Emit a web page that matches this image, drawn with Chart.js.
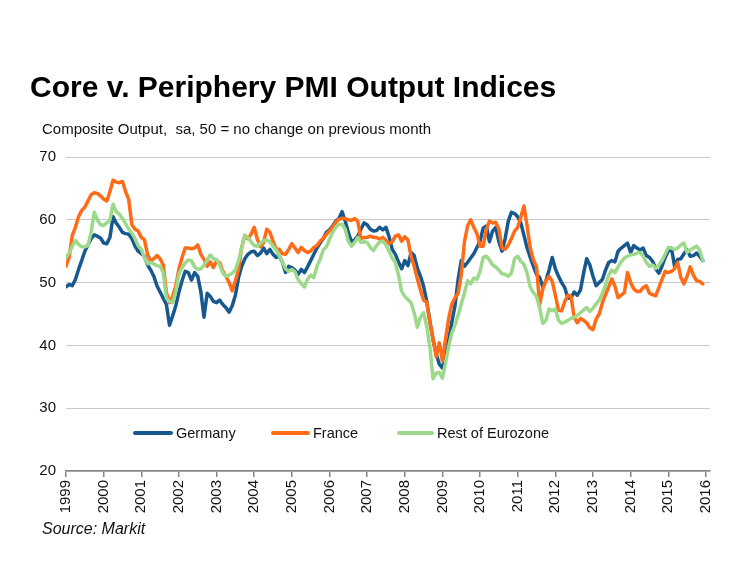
<!DOCTYPE html>
<html>
<head>
<meta charset="utf-8">
<script src="https://cdn.jsdelivr.net/npm/chart.js@4.4.1/dist/chart.umd.min.js"></script>
<style>
  body { margin: 0; background: #fff; }
  #wrap { position: relative; width: 750px; height: 562px; font-family: "Liberation Sans", Arial, sans-serif; color: #000; }
  #pmiChart { position: absolute; left: 0; top: 0; }
  .title { position: absolute; left: 30px; top: 72px; font-size: 30px; font-weight: bold; line-height: 30px; white-space: nowrap; }
  .subtitle { position: absolute; left: 42px; top: 121px; font-size: 15px; line-height: 15px; white-space: pre; color: #111; }
  .source { position: absolute; left: 42px; top: 521px; font-size: 16px; font-style: italic; line-height: 16px; color: #111; }
  .legend { position: absolute; top: 425px; font-size: 14.5px; line-height: 16px; color: #111; white-space: nowrap; }
  .legend span.swatch { position: absolute; top: 6px; height: 4px; border-radius: 2px; }
</style>
</head>
<body>
<div id="wrap">
  <canvas id="pmiChart" width="750" height="562"></canvas>
  <div class="title">Core v. Periphery PMI Output Indices</div>
  <div class="subtitle">Composite Output,  sa, 50 = no change on previous month</div>
  <div id="legend"></div>
  <div class="source">Source: Markit</div>
</div>
<script>
    // monthly, Jan 1999 .. Dec 2015
    var years = ['1999', '2000', '2001', '2002', '2003', '2004', '2005', '2006', '2007',
                 '2008', '2009', '2010', '2011', '2012', '2013', '2014', '2015', '2016'];
    var seriesNames = ['Germany', 'France', 'Rest of Eurozone'];

    var germany = [
        49.3, 49.7, 49.5, 50.5, 52.1, 53.5, 55, 56, 57, 57.6, 57.4, 57.1,
        56.3, 56.2, 57.2, 60.5, 59.5, 58.8, 58, 57.8, 57.7, 57, 55.8, 55,
        54.6, 54.2, 52.8, 52, 51, 49.5, 48.5, 47.5, 46.5, 43.2, 44.7, 46.3,
        48.5, 50.3, 51.8, 51.6, 50.4, 51.6, 51, 48.5, 44.5, 48.3, 47.8, 47,
        46.8, 47.2, 46.5, 46, 45.3, 46.3, 48, 50.8, 52.6, 53.8, 54.5, 54.9,
        55, 54.3, 54.7, 55.5, 54.6, 55.3, 54.5, 54, 54.2, 53.2, 51.6, 52.6,
        52.4, 52, 51.3, 52.1, 51.6, 52.5, 53.5, 54.5, 55.5, 56.3, 57, 58,
        58.4, 59, 59.8, 60.2, 61.3, 59.8, 58, 56.5, 56.8, 57.4, 58.5, 59.5,
        59.2, 58.5, 58.2, 58.3, 58.8, 58.4, 58.8, 57.3, 55.3, 54.5, 53.3, 52.2,
        53.5, 52.7, 54.8, 54.3, 52.3, 51, 49.4, 47, 43.8, 41, 38.7, 37,
        36.4, 38.2, 41, 43.7, 46.3, 50.5, 53.5, 52.6, 53.2, 53.9, 54.6, 55.6,
        56.6, 58.7, 59, 56.5, 58.2, 58.8, 56.5, 55, 57, 59.8, 61.2, 61,
        60.5, 59.5, 57.5, 55.5, 54, 52.6, 51.3, 50.8, 49.3, 50.3, 52, 54,
        52.2, 51, 50, 49.2, 47.5, 47.6, 48.5, 48, 48.8, 51.5, 53.8, 52.8,
        51, 49.5, 50, 50.5, 52, 53.2, 53.5, 53.3, 55, 55.5, 55.9, 56.3,
        54.8, 55.9, 55.5, 55.2, 55.5, 54.3, 54, 53.4, 52.2, 51.5, 52.6, 54,
        55, 55.5, 52.6, 53.7, 53.8, 54.6, 55.2, 54.2, 54.3, 54.7, 54.2, 53.5
    ];

    var france = [
        52.6, 54, 57.5, 58.8, 60.5, 61.5, 62, 63, 64, 64.3, 64.2, 63.8,
        63.3, 63, 64.5, 66.3, 66, 65.9, 66.1, 64.5, 63.2, 59.2, 58.5, 58.2,
        57.2, 56.8, 54.5, 53.4, 53.8, 54.3, 53.8, 52.8, 48.4, 46.8, 47.8, 49.5,
        52.2, 54, 55.5, 55.5, 55.4, 55.5, 56, 54.5, 53.7, 52.6, 53.3, 52.4,
        53.4, 53.2, 51.8, 51, 50, 48.7, 50.3, 52.1, 55.6, 57.5, 57, 57.7,
        58.8, 56.9, 55.7, 56.4, 58.5, 58, 56.6, 55.3, 55.3, 54.6, 54.5, 55.3,
        56.2, 55.5, 54.8, 55.6, 55.1, 54.8, 55, 55.6, 55.9, 56.6, 57, 57.7,
        58.2, 58.8, 59.6, 60.1, 60.2, 60.2, 60, 59.9, 60.2, 59.8, 57, 57.2,
        57.2, 57.4, 57.2, 57.2, 56.9, 57.2, 56.7, 56.2, 56.5, 57.4, 57.6, 56.6,
        57.3, 56.8, 54.2, 52.6, 50.6, 48.8, 47.2, 46.9, 43.8, 41, 38.2, 40.4,
        37.5, 41, 44.3, 46.6, 47.6, 48.3, 51.2, 56.4, 59, 60, 58.8, 57.8,
        55.8, 55.8, 58.5, 59.8, 59.5, 59.6, 58.5, 55.5, 55.3, 56, 57, 58.2,
        58.8, 60.5, 62.2, 59, 55.5, 53.6, 52.5, 46.5, 49, 50.3, 51, 50.2,
        48, 45.6, 45.5, 47, 48, 47.8, 44.5, 43.6, 44.3, 44, 43.6, 42.8,
        42.5, 44.2, 45, 46.8, 48.1, 49.3, 50.6, 49.4, 47.6, 48, 48.4, 51.6,
        50, 49, 48.6, 48.6, 49.2, 49.5, 48.3, 48.1, 47.9, 49.2, 50.5, 51.8,
        51.6, 51.8, 52.2, 53.2, 50.8, 49.8, 51, 52.5, 51.2, 50.3, 50.2, 49.8
    ];

    var restOfEurozone = [
        54, 54.7, 55.8, 56.7, 56.1, 55.7, 55.7, 55.9, 58, 61.2, 60, 59.2,
        59.1, 59.5, 60, 62.5, 61.3, 60.9, 60.2, 59.4, 58.5, 57.9, 57, 55.9,
        55.3, 54, 53, 53.2, 53, 52.7, 52.6, 51.6, 47.5, 47, 46.8, 48.6,
        51.4, 52.4, 53.1, 53.6, 53.5, 52.5, 52.1, 52.2, 52.8, 53.6, 54.4, 53.8,
        53.7, 52.8, 51.5, 51, 51.2, 51.5, 52, 53.5, 55.5, 57.5, 57.2, 56.5,
        55.9, 55.8, 56.3, 56.7, 56.8, 56.5, 55.8, 55.2, 54.2, 53.2, 52.2, 51.8,
        52.1, 51.7, 50.5, 49.8, 49.3, 50.5, 51.2, 50.8, 52.6, 53.7, 55.2, 55.7,
        56.9, 58, 58.8, 59.3, 59.3, 58.5, 56.6, 55.8, 56.4, 57.2, 56.4, 56.5,
        56.4, 55.6, 55.1, 55.9, 56.5, 56.6, 56, 55, 53.9, 53.2, 51.2, 48.6,
        47.8, 47.3, 46.8, 45.2, 42.9, 44.5, 45.2, 43, 39.8, 34.7, 35.6, 35.7,
        34.8, 37.2, 39.8, 42, 43.2, 44.8, 46.6, 48.3, 50.3, 49.8, 50.7, 50.5,
        51.8, 54, 54.2, 53.6, 52.8, 52.5, 52, 51.4, 51.3, 51, 51.5, 53.8,
        54.2, 53.4, 52.9, 51.5, 49.3, 48.4, 47.8, 46, 43.5, 44, 45.8, 45.5,
        45.8, 44, 43.5, 43.7, 44, 44.3, 44.5, 44.8, 45.2, 45.6, 46, 45.4,
        45.9, 46.6, 47.2, 48.3, 49.6, 51.2, 52, 51.6, 52.5, 53.3, 53.9, 54.2,
        54.4, 54.5, 54.7, 54.8, 54.2, 53.2, 52.6, 52.8, 52.3, 52.8, 53.5, 54.5,
        55.6, 55.5, 55.3, 55.5, 56, 56.3, 54.8, 55.2, 55.5, 55.8, 55.2, 53.5
    ];

    var yTicks = [20, 30, 40, 50, 60, 70];
    var colors = ['#17598f', '#ff6b17', '#9cd98a'];

    function toPoints(values) {
        return values.map(function (v, i) { return { x: i, y: v }; });
    }

    var tickFont = { family: '"Liberation Sans", Arial, sans-serif', size: 15 };

    var ctx = document.getElementById('pmiChart').getContext('2d');
    var myChart = new Chart(ctx, {
        type: 'line',
        data: {
            datasets: [
                { label: seriesNames[0], data: toPoints(germany), borderColor: colors[0], order: 2 },
                { label: seriesNames[1], data: toPoints(france), borderColor: colors[1], order: 1 },
                { label: seriesNames[2], data: toPoints(restOfEurozone), borderColor: colors[2], order: 0 }
            ]
        },
        options: {
            responsive: false,
            animation: false,
            devicePixelRatio: 1,
            layout: { padding: { top: 157, right: 40, left: 0, bottom: 0 } },
            elements: {
                point: { radius: 0 },
                line: { borderWidth: 3.5, tension: 0, borderJoinStyle: 'round', borderCapStyle: 'round', fill: false }
            },
            plugins: {
                legend: { display: false },
                tooltip: { enabled: false }
            },
            scales: {
                x: {
                    type: 'linear',
                    min: 0,
                    max: 205.3,
                    afterFit: function (s) { s.height = 91; },
                    afterBuildTicks: function (s) {
                        s.ticks = years.map(function (y, i) { return { value: i * 12 }; });
                    },
                    ticks: {
                        callback: function (v, i) { return years[i]; },
                        minRotation: 90,
                        maxRotation: 90,
                        padding: 3,
                        font: tickFont,
                        color: '#111'
                    },
                    grid: { drawOnChartArea: false, drawTicks: true, tickLength: 6, color: '#858585', lineWidth: 1.5 },
                    border: { color: '#858585', width: 1.5 }
                },
                y: {
                    min: 20,
                    max: 70,
                    afterFit: function (s) { s.width = 66; },
                    afterBuildTicks: function (s) {
                        s.ticks = yTicks.map(function (v) { return { value: v }; });
                    },
                    ticks: { padding: 10, font: tickFont, color: '#111' },
                    grid: { color: '#c8c8c8', lineWidth: 1, drawTicks: false },
                    border: { display: false }
                }
            }
        }
    });

    // legend inside the plot, as in the original
    var legendPos = [{ line: 133, text: 176 }, { line: 271, text: 313 }, { line: 397, text: 437 }];
    var legendEl = document.getElementById('legend');
    seriesNames.forEach(function (name, i) {
        var d = document.createElement('div');
        d.className = 'legend';
        d.style.left = legendPos[i].line + 'px';
        d.innerHTML = '<span class="swatch" style="left:0;width:' + (legendPos[i].text - legendPos[i].line - 3) +
            'px;background:' + colors[i] + '"></span><span style="position:absolute;left:' +
            (legendPos[i].text - legendPos[i].line) + 'px;top:0">' + name + '</span>';
        legendEl.appendChild(d);
    });
</script>
</body>
</html>
